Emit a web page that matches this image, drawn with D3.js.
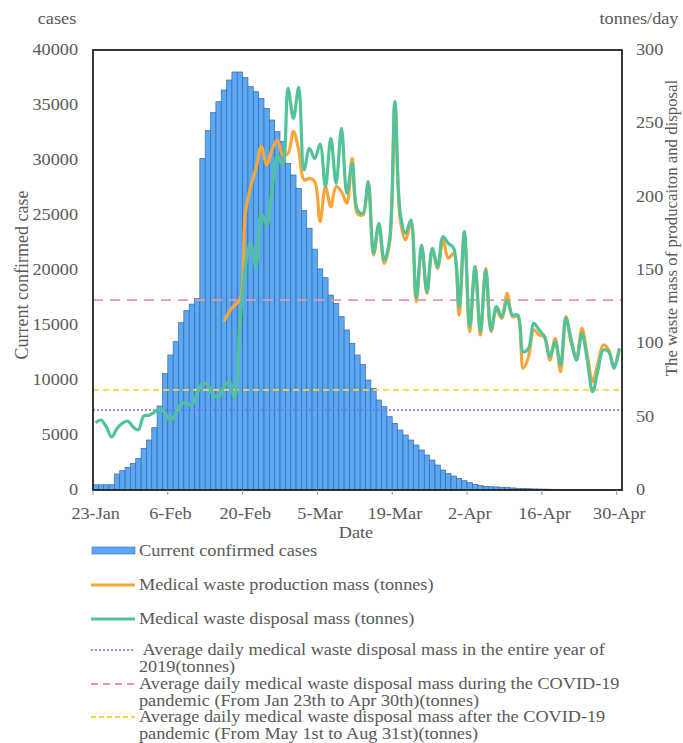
<!DOCTYPE html>
<html><head><meta charset="utf-8">
<script src="https://cdn.jsdelivr.net/npm/d3@7"></script>
<style>body{margin:0;background:#fff}svg text{font-family:"Liberation Serif","Times New Roman",serif;fill:#595959}</style>
</head><body><svg id="c" width="683" height="743"></svg>
<script>
// ---- data ----
const startDate = new Date(2020, 0, 23);
const endDate = new Date(2020, 4, 1);
const dates = d3.timeDay.range(startDate, endDate); // 23-Jan .. 30-Apr (99 days)
const tickLabels = ["23-Jan","6-Feb","20-Feb","5-Mar","19-Mar","2-Apr","16-Apr","30-Apr"];
const leftTicks = [0,5000,10000,15000,20000,25000,30000,35000,40000];
const rightTicks = [0,50,100,150,200,250,300];

const confirmed = [470,470,470,480,1455,1757,2060,2424,2878,3787,
 4545,5666,7636,10606,12272,13484,15212,16300,16900,17400,
 30150,32666,34303,35303,36364,37273,38000,38000,37500,36667,
 36212,35606,34697,33636,32576,31666,29697,28636,27424,25400,
 23800,21900,20100,19300,17727,16970,15757,14545,13333,12272,
 11400,10000,9242,8182,7575,6666,6060,5454,5000,4545,
 4090,3636,3181,2727,2272,1818,1515,1272,1060,848,
 666,515,424,333,300,280,250,220,190,160,
 140,120,100,90,80,70,60,55,50,50,
 50,50,50,50,50,50,40,30,20];

const disposal = [45.9,47.7,43.0,36.0,42.0,45.5,47.0,43.0,41.0,50.5,
 51.0,53.0,55.7,52.3,47.7,52.3,59.1,58.9,58.0,65.9,
 72.7,71.6,64.8,63.6,70.5,73.9,63.2,113.6,152.0,168.2,
 152.3,188.6,180.7,204.5,228.4,221.6,273.9,253.4,274.5,218.2,
 233.0,226.0,235.9,206.8,239.7,209.1,246.6,202.3,222.7,190.9,
 188.6,210.2,161.4,181.8,156.8,170.5,264.8,188.6,175.0,184.1,
 130.7,167.0,135.2,164.8,152.3,172.7,168.2,164.8,125.0,176.1,
 111.4,152.3,108.0,150.0,109.1,125.0,118.2,129.5,119.3,119.3,
 94.3,96.6,113.6,109.1,104.5,90.9,101.1,85.2,117.0,102.3,
 88.6,106.8,88.6,67.0,81.8,95.5,94.3,83.0,96.6];

const production = [null,null,null,null,null,null,null,null,null,null,
 null,null,null,null,null,null,null,null,null,null,
 null,null,null,null,114.8,121.6,126.1,129.5,188.6,206.8,
 219.3,234.1,221.6,231.8,238.6,228.4,229.5,244.3,231.8,211.4,
 212.5,210.2,182.9,206.8,193.2,206.8,203.4,195.5,226.1,188.6,
 187.5,209.1,160.2,180.7,154.5,168.2,263.6,184.1,170.5,181.8,
 128.4,165.9,134.1,163.6,151.1,170.5,158.0,161.4,119.3,175.0,
 108.0,152.3,105.7,151.1,108.0,122.7,117.0,134.1,118.2,118.2,
 83.0,90.9,109.1,105.7,104.5,88.6,103.4,80.7,118.2,100.0,
 90.9,110.2,92.0,73.9,86.4,98.9,95.5,84.1,95.5];

const avg2019 = 54.5;
const avgDuring = 129.5;
const avgAfter = 68.2;

const legendItems = [
 {type:"bar", lines:["Current confirmed cases"]},
 {type:"orange", lines:["Medical waste production mass (tonnes)"]},
 {type:"green", lines:["Medical waste disposal mass (tonnes)"]},
 {type:"dot", lines:[" Average daily medical waste disposal mass in the entire year of","2019(tonnes)"]},
 {type:"pink", lines:["Average daily medical waste disposal mass during the COVID-19","pandemic (From Jan 23th to Apr 30th)(tonnes)"]},
 {type:"yellow", lines:["Average daily medical waste disposal mass after the COVID-19","pandemic (From May 1st to Aug 31st)(tonnes)"]}
];

// ---- layout ----
const L = 93, R = 622, T = 50, B = 490;
const FS = 16, SX = 1.14;
const svg = d3.select("#c");
const fmt = d3.timeFormat("%-d-%b");

const x = d3.scaleBand().domain(dates.map(fmt)).range([L, R]).padding(0);
const yL = d3.scaleLinear().domain([0, 40000]).range([B, T]);
const yR = d3.scaleLinear().domain([0, 300]).range([B, T]);

const C = {bar:"#5aa8f4", barStroke:"#3a68a8", orange:"#f8a63a", green:"#52c398",
  pink:"#e894a8", yellow:"#f6d445", blue:"#6f6ff0"};

function txt(g, tx, ty, s, anchor){
  return g.append("text").attr("transform", `translate(${tx},${ty}) scale(${SX},1)`)
    .attr("text-anchor", anchor || "start").attr("font-size", FS)
    .attr("xml:space","preserve").style("white-space","pre").text(s);
}

// bars
svg.append("g").selectAll("rect").data(confirmed).join("rect")
 .attr("x", (d,i)=>x(fmt(dates[i])))
 .attr("y", d=>yL(d))
 .attr("width", x.bandwidth())
 .attr("height", d=>B - yL(d))
 .attr("fill", C.bar).attr("stroke", C.barStroke).attr("stroke-width", 0.7);

// reference lines
function hline(v, color, dash, w){
  svg.append("line").attr("x1", L).attr("x2", R).attr("y1", yR(v)).attr("y2", yR(v))
   .attr("stroke", color).attr("stroke-width", w).attr("stroke-dasharray", dash);
}
hline(avg2019, C.blue, "2,2", 1.6);
hline(avgAfter, C.yellow, "6,4", 1.8);
hline(avgDuring, C.pink, "10,7", 1.8);

// series lines
const cx = i => x(fmt(dates[i])) + x.bandwidth()/2;
const line = d3.line().defined(d=>d!=null).x((d,i)=>cx(i)).y(d=>yR(d)).curve(d3.curveCatmullRom.alpha(0.5));
svg.append("path").datum(production).attr("d", line).attr("fill","none")
 .attr("stroke", C.orange).attr("stroke-width", 3.2).attr("stroke-linejoin","round");
svg.append("path").datum(disposal).attr("d", line).attr("fill","none")
 .attr("stroke", C.green).attr("stroke-width", 3.2).attr("stroke-linejoin","round");

// frame
svg.append("rect").attr("x", L).attr("y", T).attr("width", R-L).attr("height", B-T)
 .attr("fill","none").attr("stroke","#222").attr("stroke-width",1.8);

// x ticks
const tickIdx = tickLabels.map(t => dates.findIndex(d => fmt(d) === t));
svg.append("g").selectAll("line").data(tickIdx).join("line")
 .attr("x1", i=>x(fmt(dates[i]))).attr("x2", i=>x(fmt(dates[i])))
 .attr("y1", B).attr("y2", B+5).attr("stroke","#999").attr("stroke-width",1);
const gx = svg.append("g");
tickIdx.forEach((i,k)=> txt(gx, cx(i), 519, tickLabels[k], "middle"));

// y ticks
const gy = svg.append("g");
leftTicks.forEach(d => txt(gy, 78, yL(d)+5, String(d), "end"));
rightTicks.forEach(d => txt(gy, 636, yR(d)+5, String(d), "start"));

// axis titles
txt(svg, 57, 24, "cases", "middle");
txt(svg, 639, 24, "tonnes/day", "middle");
txt(svg, 356, 538, "Date", "middle");
svg.append("text").attr("transform","translate(28,275) rotate(-90)").attr("text-anchor","middle")
 .attr("font-size",18).text("Current confirmed case");
svg.append("text").attr("transform","translate(677,228) rotate(-90)").attr("text-anchor","middle")
 .attr("font-size",16.8).text("The waste mass of producaiton and disposal");

// legend
const rowY = [551, 585, 619, 650, 684, 717];
const lg = svg.append("g");
legendItems.forEach((it, k) => {
  const y = rowY[k];
  if (it.type === "bar") {
    lg.append("rect").attr("x", 92).attr("y", y-4).attr("width", 43).attr("height", 7)
      .attr("fill", C.bar).attr("stroke", C.barStroke).attr("stroke-width", 0.6);
  } else {
    const m = {orange:[C.orange,null,3], green:[C.green,null,3], dot:[C.blue,"2,2",1.5],
               pink:[C.pink,"7,5",1.8], yellow:[C.yellow,"5,3",1.8]}[it.type];
    lg.append("line").attr("x1", 91).attr("x2", 135).attr("y1", y).attr("y2", y)
      .attr("stroke", m[0]).attr("stroke-width", m[2]).attr("stroke-dasharray", m[1]);
  }
  it.lines.forEach((t, j) => txt(lg, 139, y + 5 + j*16.5, t, "start"));
});
</script></body></html>
